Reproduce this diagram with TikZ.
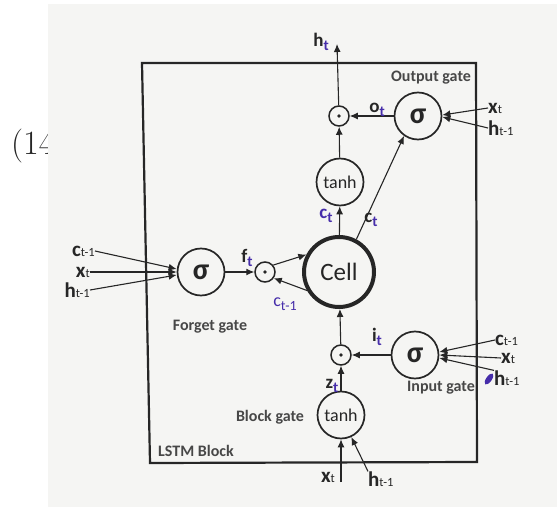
\documentclass[tikz,border=0pt]{standalone}
\usepackage{fontspec}
\newfontfamily\carl{Carlito}
\usetikzlibrary{arrows.meta}
\definecolor{paper}{RGB}{245,245,243}
\definecolor{ink}{RGB}{38,38,38}
\definecolor{pen}{RGB}{70,45,170}
\newcommand{\inl}[2]{{\fontsize{21}{21}\carl\bfseries #1}{\fontsize{12.5}{12.5}\carl #2}}
\newcommand{\pl}[2]{{\fontsize{19}{19}\carl\bfseries #1}\raisebox{-3.5pt}{\fontsize{15}{15}\carl\bfseries\color{pen}#2}}
\tikzset{
  every node/.style={text=ink},
  gate/.style={circle, draw=ink, line width=1.7pt, minimum size=47pt, inner sep=0pt, font=\carl\fontsize{18}{18}\selectfont},
  sig/.style={gate, font=\carl\bfseries\fontsize{30}{30}\selectfont},
  mult/.style={circle, draw=ink, line width=1.5pt, minimum size=20pt, inner sep=0pt,
     path picture={\fill[ink] (path picture bounding box.center) circle (1.8pt);}},
  cellc/.style={circle, draw=ink, line width=4pt, minimum size=70pt, inner sep=0pt, font=\carl\fontsize{25}{25}\selectfont},
  arr/.style={draw=ink, line width=1.1pt, -{Latex[length=8pt,width=7pt]}},
  txt/.style={font=\carl\bfseries\fontsize{16}{16}\selectfont, inner sep=0pt, text=ink!85},
  lab/.style={inner sep=0pt},
}
\begin{document}
\begin{tikzpicture}[x=1pt,y=-1pt]
\useasboundingbox (0,0) rectangle (557,508);
\fill[white] (0,0) rectangle (557,508);
\node[anchor=base west, inner sep=0pt, font=\fontsize{34}{34}\selectfont] (num) at (11,155) {(14};
\fill[paper] (48,4) rectangle (557,507);
% box
\draw[ink, line width=2.2pt] (142,63) -- (476,63) -- (477,462) -- (150,463) -- cycle;
% nodes
\node[sig] (os) at (418,116) {σ};
\node[mult] (om) at (339,116) {};
\node[gate] (tt) at (340,182) {tanh};
\node[cellc] (cell) at (339,272) {Cell};
\node[sig] (fs) at (201,272) {σ};
\node[mult] (fm) at (265,272) {};
\node[mult] (im) at (341,355) {};
\node[sig] (is) at (415,355) {σ};
\node[gate] (bt) at (341,415) {tanh};
% texts
\node[txt] (tog) at (431,78) {Output gate};
\node[txt] (tfg) at (210,327) {Forget gate};
\node[txt] (tig) at (441,388) {Input gate};
\node[txt] (tbg) at (270,417) {Block gate};
\node[txt] (tlb) at (196,451) {LSTM Block};
% output
\coordinate (ht) at (337,44);
\draw[arr] (om) -- (ht);
\node[lab] (lht) at (321,42) {\pl{h}{t}};
\draw[arr] (os) -- (om);
\node[lab] (lot) at (377,110) {\pl{o}{t}};
\draw[arr] (tt) -- (om);
\node[lab, anchor=west] (oxt) at (488,108) {\inl{x}{t}};
\node[lab, anchor=west] (oht) at (488,128) {\inl{h}{t-1}};
\draw[arr] (oxt.west) -- ([yshift=1pt]os.east);
\draw[arr] (oht.west) -- ([yshift=-1pt]os.east);
% cell
\draw[arr] (cell) -- (tt);
\node[lab, text=pen] (lct1) at (326,216) {\fontsize{19}{19}\carl\bfseries c\raisebox{-3.5pt}{\fontsize{15}{15}\selectfont t}};
\draw[arr] (cell.62) -- (os.235);
\node[lab] (lct2) at (371,220) {\pl{c}{t}};
% forget
\draw[arr] (fs) -- (fm);
\node[lab] (lft) at (247,258) {\pl{f}{t}};
\draw[arr] (fm.40) -- (cell.152);
\draw[arr] (cell.210) -- (fm.-35);
\node[lab, text=pen] (lcm) at (285,304) {\fontsize{18}{18}\carl c\raisebox{-3.5pt}{\fontsize{14}{14}\selectfont t-1}};
\node[lab, anchor=east] (fct) at (95,251) {\inl{c}{t-1}};
\node[lab, anchor=east] (fxt) at (90,272) {\inl{x}{t}};
\node[lab, anchor=east] (fht) at (90,290) {\inl{h}{t-1}};
\draw[arr] (fct.east) -- ([yshift=3pt]fs.west);
\draw[arr] (fxt.east) -- ([yshift=0pt]fs.west);
\draw[arr] (fht.east) -- ([yshift=-3pt]fs.west);
% input
\draw[arr] (im) -- (cell);
\draw[arr] (is) -- (im);
\node[lab] (lit) at (377,337) {\pl{i}{t}};
\node[lab, anchor=west] (ict) at (495,340) {\inl{c}{t-1}};
\node[lab, anchor=west] (ixt) at (501,358) {\inl{x}{t}};
\node[lab, anchor=west] (iht) at (494,378) {\inl{h}{t-1}};
\draw[arr] (ict.west) -- ([yshift=3pt]is.east);
\draw[arr] (ixt.west) -- ([yshift=0pt]is.east);
\draw[arr] (iht.north west) -- ([yshift=-3pt]is.east);
\fill[pen] (489,379) ellipse [x radius=2.8pt, y radius=6.5pt, rotate=-35];
% block
\draw[arr] (bt) -- (im);
\node[lab] (lzt) at (332,386) {\pl{z}{t}};
\coordinate (bx) at (341,482);
\draw[arr] (bx) -- (bt);
\node[lab] (bxt) at (328,477) {\inl{x}{t}};
\node[lab, anchor=west] (bht) at (368,479) {\inl{h}{t-1}};
\draw[arr] (bht.north west) -- (bt.295);
\end{tikzpicture}
\end{document}
